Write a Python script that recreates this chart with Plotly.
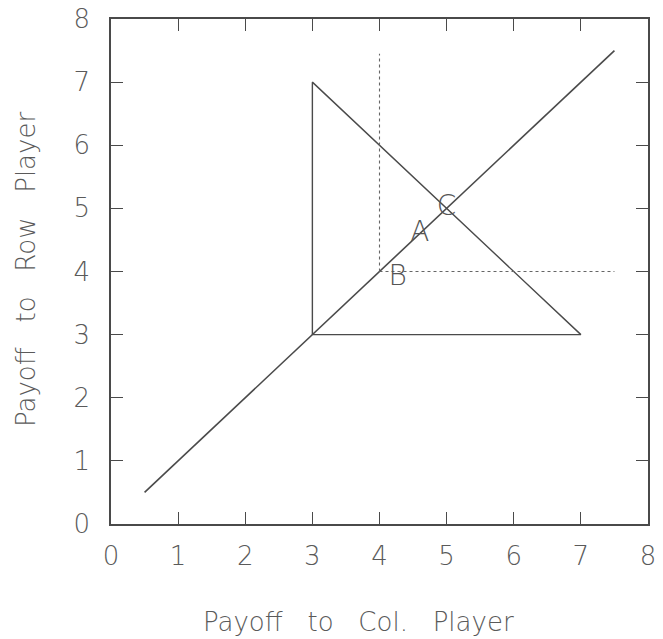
import plotly.graph_objects as go

# Diagonal of equal payoffs
diag_x = [0.5, 7.5]
diag_y = [0.5, 7.5]

# Payoff region (triangle)
tri_x = [3, 3, 7, 3]
tri_y = [3, 7, 3, 3]

# Dotted guide lines from the disagreement point
vguide_x = [4, 4]
vguide_y = [4, 7.45]
hguide_x = [4, 7.5]
hguide_y = [4, 4]

# Point labels
pt_text = ["A", "B", "C"]
pt_x = [4.6, 4.27, 5.0]
pt_y = [4.6, 3.9, 5.0]

tick_vals = [0, 1, 2, 3, 4, 5, 6, 7, 8]

GAP = "\u00a0" * 3
x_title = GAP.join(["Payoff", "to", "Col.", "Player"])
y_title = GAP.join(["Payoff", "to", "Row", "Player"])

LINE = "#4a4a4a"
TEXT = "#5a5a5a"
FONT = "DejaVu Sans ExtraLight, DejaVu Sans"

fig = go.Figure()
fig.add_trace(go.Scatter(x=diag_x, y=diag_y, mode="lines",
                         line=dict(color=LINE, width=1.6), hoverinfo="skip"))
fig.add_trace(go.Scatter(x=tri_x, y=tri_y, mode="lines",
                         line=dict(color=LINE, width=1.4), hoverinfo="skip"))
fig.add_trace(go.Scatter(x=vguide_x, y=vguide_y, mode="lines",
                         line=dict(color="#666", width=1.1, dash="dot"), hoverinfo="skip"))
fig.add_trace(go.Scatter(x=hguide_x, y=hguide_y, mode="lines",
                         line=dict(color="#666", width=1.1, dash="dot"), hoverinfo="skip"))
fig.add_trace(go.Scatter(x=pt_x, y=pt_y, mode="text", text=pt_text,
                         textposition="middle center",
                         textfont=dict(family=FONT, size=28, color="#555", weight=200),
                         hoverinfo="skip"))

axis_common = dict(
    range=[0, 8], tickvals=tick_vals, ticks="inside", ticklen=12,
    tickcolor=LINE, tickwidth=1.2, showline=True, linecolor=LINE, linewidth=1.6,
    mirror="ticks", showgrid=False, zeroline=False, fixedrange=True,
    automargin=False,
    tickfont=dict(family=FONT, size=26, color=TEXT, weight=200),
)

fig.update_layout(
    width=663, height=639,
    margin=dict(l=111, r=15, t=19, b=115),
    plot_bgcolor="white", paper_bgcolor="white",
    showlegend=False,
    xaxis=dict(**axis_common, ticklabelstandoff=8),
    yaxis=dict(**axis_common, ticklabelstandoff=14),
    annotations=[
        dict(text=x_title, xref="paper", yref="paper",
             x=(358 - 111) / 537, y=-(622 - 524) / 505, xanchor="center", yanchor="middle",
             showarrow=False, font=dict(family=FONT, size=26, color=TEXT, weight=200)),
        dict(text=y_title, xref="paper", yref="paper",
             x=-(111 - 26) / 537, y=(524 - 270) / 505, xanchor="center", yanchor="middle",
             textangle=-90, showarrow=False,
             font=dict(family=FONT, size=26, color=TEXT, weight=200)),
    ],
)

fig.write_html("out.html")
